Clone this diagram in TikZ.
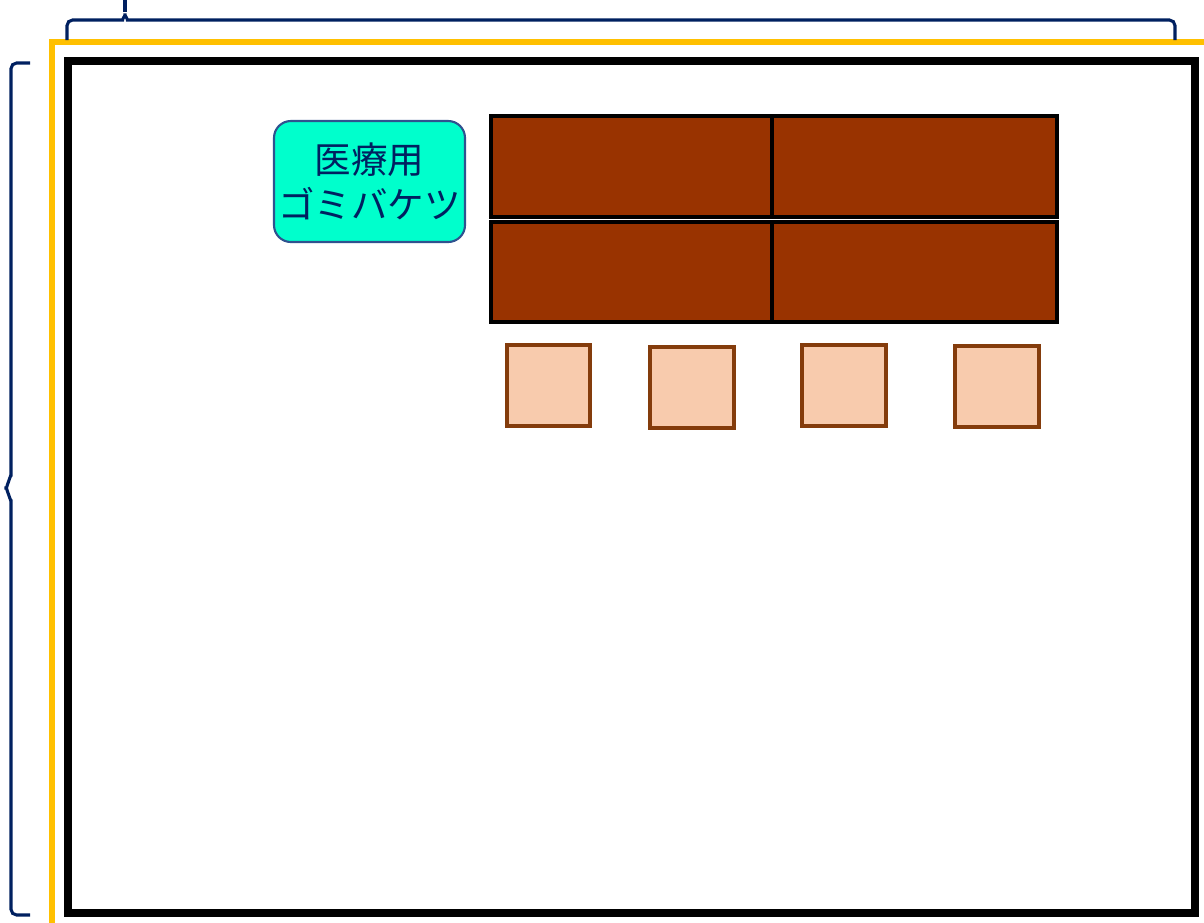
\documentclass[tikz,border=0pt]{standalone}
\usepackage{fontspec}
\newfontfamily\cjk{Noto Sans CJK JP}
\usetikzlibrary{positioning}
\definecolor{navy}{HTML}{002060}
\definecolor{gold}{HTML}{FFC000}
\definecolor{aqua}{HTML}{00FFCC}
\definecolor{rim}{HTML}{2F528F}
\definecolor{rust}{HTML}{993300}
\definecolor{peach}{HTML}{F8CBAD}
\definecolor{darkrust}{HTML}{843C0C}

\begin{document}
\begin{tikzpicture}[x=0.025cm, y=-0.025cm]
  \tikzset{
    brace/.style={draw=navy, line width=2.2pt, rounded corners=4pt},
    bench/.style={draw=black, line width=2.6pt, fill=rust},
    seat/.style={draw=darkrust, line width=2.2pt, fill=peach},
  }
  \useasboundingbox (0,0) rectangle (1204,922);

  % outer frames
  \draw[draw=gold, line width=3.6pt] (52,930) -- (52,42) -- (1215,42);
  \draw[line width=5pt] (68,61) rectangle (1195,913);

  % braces
  \draw[brace] (67,40) -- (67,20) -- (117,20) to[out=0, in=-90] (125,10)
    to[out=-90, in=180] (133,20) -- (1175,20) -- (1175,40);
  \draw[brace, rounded corners=0pt] (125,12) -- (125,0);
  \draw[brace] (30,63) -- (11,63) -- (11,480) to[out=90, in=0] (1,488)
    to[out=0, in=-90] (11,496) -- (11,915) -- (30,915);

  % label
  \node[draw=rim, line width=1.5pt, fill=aqua, rounded corners=12pt,
        minimum width=191*0.025cm, minimum height=121*0.025cm,
        align=center, text=navy, font=\cjk\fontsize{26}{32}\selectfont,
        inner sep=0pt] (bucket) at (369.5,181.5) {医療用\\ゴミバケツ};

  % tables
  \draw[bench] (491,116) rectangle (772,217);
  \draw[bench] (772,116) rectangle (1057,217);
  \draw[bench] (491,222) rectangle (772,322);
  \draw[bench] (772,222) rectangle (1057,322);

  % chairs
  \draw[seat] (507,345) rectangle (590,426);
  \draw[seat] (650,347) rectangle (734,428);
  \draw[seat] (802,345) rectangle (886,426);
  \draw[seat] (955,346) rectangle (1039,427);
\end{tikzpicture}
\end{document}
